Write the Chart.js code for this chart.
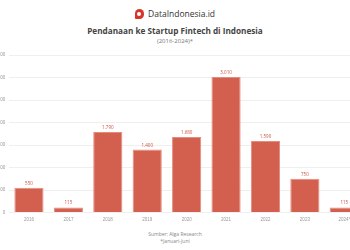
<!DOCTYPE html>
<html>
<head>
<meta charset="utf-8">
<script src="https://cdn.jsdelivr.net/npm/chart.js@4"></script>
<style>
  html, body { margin: 0; padding: 0; width: 350px; height: 250px; overflow: hidden; background: #fff; font-family: "Open Sans", "Noto Sans", sans-serif; }
  #head { position: absolute; left: 0; top: 0; width: 350px; text-align: center; }
  #brand { position: absolute; top: 7px; left: 0; width: 350px; font-size: 8.5px; color: #333; line-height: 14px; }
  #brand .ico { display: inline-block; width: 9px; height: 10px; background: #d9342b; border-radius: 5px 5px 5px 1px; vertical-align: -2px; margin-right: 4px; position: relative; }
  #brand .ico::after { content: ""; position: absolute; left: 2.5px; top: 3px; width: 4px; height: 4px; border-radius: 2px; background: #fff; }
  #title { position: absolute; top: 25px; left: 0; width: 350px; font-size: 8.2px; font-weight: bold; color: #444; }
  #sub { position: absolute; top: 37px; left: 0; width: 350px; font-size: 6px; color: #777; }
  #wrap { position: absolute; left: -10px; top: 48px; width: 374px; height: 178px; }
  #foot { position: absolute; top: 231px; left: 0; width: 350px; text-align: center; font-size: 5px; color: #888; line-height: 7px; }
</style>
</head>
<body>
<div id="head">
  <div id="brand"><span class="ico"></span>DataIndonesia.id</div>
  <div id="title">Pendanaan ke Startup Fintech di Indonesia</div>
  <div id="sub">(2016-2024)*</div>
</div>
<div id="wrap"><canvas id="grafik"></canvas></div>
<div id="foot">Sumber: Alga Research<br>*Januari-Juni</div>
<script>
const tahun = ['2016', '2017', '2018', '2019', '2020', '2021', '2022', '2023', '2024*'];
const pendanaan = [550, 115, 1790, 1400, 1680, 3010, 1590, 750, 115];
const ticksY = [0, 500, 1000, 1500, 2000, 2500, 3000, 3500];

const fmt = v => v.toLocaleString('id-ID');

// label nilai di atas batang
const labelNilai = {
    id: 'labelNilai',
    afterDatasetsDraw(chart) {
        const ctx = chart.ctx;
        const meta = chart.getDatasetMeta(0);
        ctx.save();
        ctx.font = '4.5px "Open Sans", sans-serif';
        ctx.fillStyle = '#c9513f';
        ctx.textAlign = 'center';
        ctx.textBaseline = 'bottom';
        meta.data.forEach((bar, i) => {
            ctx.fillText(fmt(pendanaan[i]), bar.x, bar.y - 2);
        });
        ctx.restore();
    }
};

new Chart(document.getElementById('grafik'), {
    type: 'bar',
    data: {
        labels: tahun,
        datasets: [{
            data: pendanaan,
            backgroundColor: '#d35f4e',
            borderColor: '#e48b7d',
            borderWidth: 1,
            categoryPercentage: 0.74,
            barPercentage: 1
        }]
    },
    options: {
        responsive: true,
        maintainAspectRatio: false,
        animation: false,
        layout: { padding: { top: 7, right: 0, left: 0, bottom: 0 } },
        plugins: { legend: { display: false }, tooltip: { enabled: false } },
        scales: {
            x: {
                grid: { display: false, drawTicks: false },
                border: { display: false },
                ticks: { color: '#999', font: { size: 4.5 }, padding: 4, maxRotation: 0 }
            },
            y: {
                min: 0,
                max: 3500,
                afterBuildTicks: axis => { axis.ticks = ticksY.map(v => ({ value: v })); },
                grid: { color: '#efefef', drawTicks: false },
                border: { display: false },
                ticks: { color: '#999', font: { size: 4.5 }, padding: 4, callback: v => fmt(v) }
            }
        }
    },
    plugins: [labelNilai]
});
</script>
</body>
</html>
